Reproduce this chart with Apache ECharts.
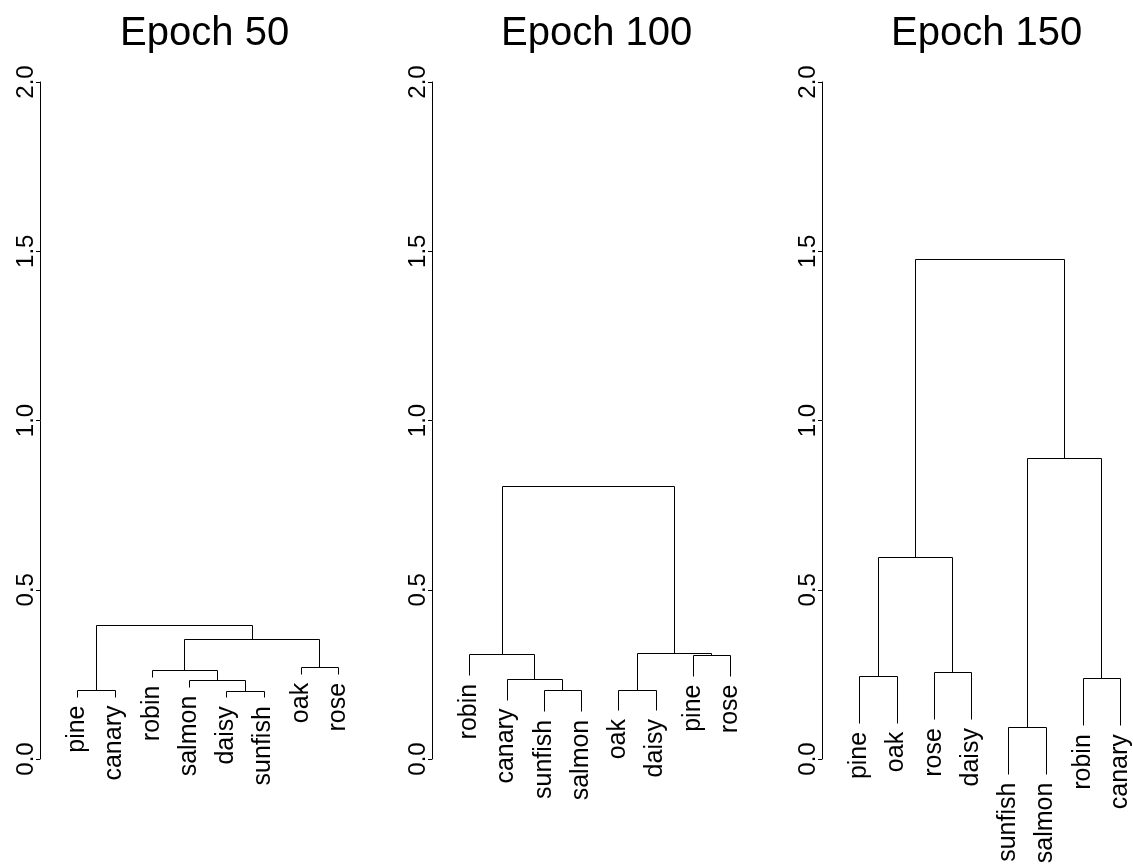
<!DOCTYPE html>
<html>
<head>
<meta charset="utf-8">
<script src="https://cdn.jsdelivr.net/npm/echarts@6/dist/echarts.min.js"></script>
<style>
  html, body { margin: 0; padding: 0; background: #fff; }
  #chart { width: 1133px; height: 865px; }
</style>
</head>
<body>
<div id="chart"></div>
<script>
// Panel titles
const TITLES = ['Epoch 50', 'Epoch 100', 'Epoch 150'];

// Y axis ticks (merge height)
const Y_TICKS = [0.0, 0.5, 1.0, 1.5, 2.0];

// Leaf order for each dendrogram, left to right
const LEAVES_50  = ['pine', 'canary', 'robin', 'salmon', 'daisy', 'sunfish', 'oak', 'rose'];
const LEAVES_100 = ['robin', 'canary', 'sunfish', 'salmon', 'oak', 'daisy', 'pine', 'rose'];
const LEAVES_150 = ['pine', 'oak', 'rose', 'daisy', 'sunfish', 'salmon', 'robin', 'canary'];

// Merge steps (hclust style): negative = leaf position (1-based), positive = earlier step
const MERGE_50  = [[-5, -6], [-1, -2], [-4, 1], [-3, 3], [-7, -8], [4, 5], [2, 6]];
const MERGE_100 = [[-3, -4], [-5, -6], [-2, 1], [-7, -8], [-1, 3], [2, 4], [5, 6]];
const MERGE_150 = [[-5, -6], [-7, -8], [-1, -2], [-3, -4], [3, 4], [1, 2], [5, 6]];

// Height of each merge step
const HEIGHT_50  = [0.202, 0.204, 0.233, 0.263, 0.271, 0.354, 0.396];
const HEIGHT_100 = [0.203, 0.205, 0.236, 0.307, 0.309, 0.314, 0.807];
const HEIGHT_150 = [0.095, 0.238, 0.245, 0.256, 0.596, 0.890, 1.477];

const PANELS = [
  { title: TITLES[0], leaves: LEAVES_50,  merge: MERGE_50,  height: HEIGHT_50,  left: 40 },
  { title: TITLES[1], leaves: LEAVES_100, merge: MERGE_100, height: HEIGHT_100, left: 432 },
  { title: TITLES[2], leaves: LEAVES_150, merge: MERGE_150, height: HEIGHT_150, left: 822 }
];

const FONT = '"Liberation Sans", Arial, Helvetica, sans-serif';
const GRID_TOP = 82;
const GRID_BOTTOM = 106;
const LEAF_STEP = 37.25;   // pixels between neighbouring leaves
const X_MAX = 8.3;         // leaves sit at 1..8 on the hidden x axis
const X_CENTER = 4.5;      // middle of the leaf row, where the title is centred

// Turn merge steps into link segments and hanging leaf positions
function buildTree(panel) {
  const hs = panel.height;
  const hang = 0.1 * (Math.max(...hs) - Math.min(...hs));
  const nodeX = [];
  const links = [];
  const leafEnds = [];
  panel.merge.forEach((pair, i) => {
    const h = hs[i];
    const ends = pair.map(c => {
      if (c < 0) {
        const pos = -c;
        const yEnd = h - hang;
        leafEnds.push([pos, yEnd, panel.leaves[pos - 1]]);
        return [pos, yEnd];
      }
      return [nodeX[c - 1], hs[c - 1]];
    });
    nodeX[i] = (ends[0][0] + ends[1][0]) / 2;
    links.push([ends[0][0], ends[0][1], ends[1][0], ends[1][1], h]);
  });
  return { links, leafEnds };
}

const grids = [], xAxes = [], yAxes = [], series = [], titles = [];

PANELS.forEach((panel, k) => {
  const tree = buildTree(panel);
  const width = LEAF_STEP * X_MAX;
  grids.push({ left: panel.left, top: GRID_TOP, bottom: GRID_BOTTOM, width: width, containLabel: false });
  xAxes.push({
    type: 'value', gridIndex: k, min: 0, max: X_MAX, show: false
  });
  yAxes.push({
    type: 'value', gridIndex: k, min: Y_TICKS[0], max: Y_TICKS[Y_TICKS.length - 1], interval: 0.5,
    splitLine: { show: false },
    axisLine: { show: true, lineStyle: { color: '#000', width: 1 } },
    axisTick: { show: true, length: 4, lineStyle: { color: '#000', width: 1 } },
    axisLabel: {
      rotate: 90, margin: 2, fontSize: 24, fontFamily: FONT, color: '#000',
      formatter: v => v.toFixed(1)
    }
  });
  titles.push({
    text: panel.title,
    left: panel.left + X_CENTER * LEAF_STEP - 3,
    top: 14,
    padding: 0,
    textAlign: 'center',
    textStyle: { fontSize: 40, fontWeight: 'normal', fontFamily: FONT, color: '#000' }
  });
  // dendrogram links
  series.push({
    type: 'custom', xAxisIndex: k, yAxisIndex: k,
    data: tree.links,
    encode: { x: [0, 2], y: [1, 3, 4] },
    silent: true,
    clip: false,
    renderItem: function (params, api) {
      const x1 = api.value(0), y1 = api.value(1), x2 = api.value(2), y2 = api.value(3), h = api.value(4);
      const pts = [api.coord([x1, y1]), api.coord([x1, h]), api.coord([x2, h]), api.coord([x2, y2])]
        .map(p => [Math.round(p[0]) + 0.5, Math.round(p[1]) + 0.5]);
      return {
        type: 'polyline',
        shape: { points: pts },
        style: { stroke: '#000', lineWidth: 1, fill: null }
      };
    }
  });
  // leaf labels hanging below the leaves
  series.push({
    type: 'custom', xAxisIndex: k, yAxisIndex: k,
    data: tree.leafEnds,
    encode: { x: 0, y: 1 },
    silent: true,
    clip: false,
    renderItem: function (params, api) {
      const p = api.coord([api.value(0), api.value(1)]);
      const name = tree.leafEnds[params.dataIndex][2];
      return {
        type: 'text',
        x: p[0], y: p[1] + 9,
        rotation: Math.PI / 2,
        style: {
          text: name, fill: '#000', fontSize: 25, fontFamily: FONT,
          align: 'right', verticalAlign: 'middle'
        }
      };
    }
  });
});

const chart = echarts.init(document.getElementById('chart'), null, { renderer: 'canvas' });
chart.setOption({
  backgroundColor: '#fff',
  animation: false,
  title: titles,
  grid: grids,
  xAxis: xAxes,
  yAxis: yAxes,
  series: series
});
</script>
</body>
</html>
